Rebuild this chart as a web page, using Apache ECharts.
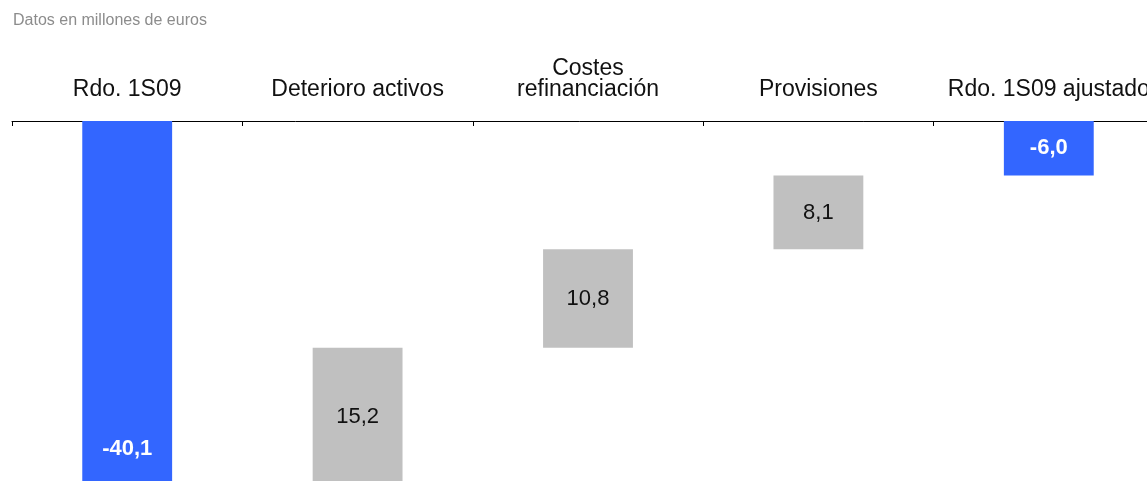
<!DOCTYPE html>
<html>
<head>
<meta charset="utf-8">
<script src="https://cdn.jsdelivr.net/npm/echarts@6/dist/echarts.min.js"></script>
<style>
  html, body { margin: 0; padding: 0; background: #fff; }
  #chart-panel { width: 1147px; height: 481px; }
</style>
</head>
<body>
<div id="chart-panel"></div>
<script>
// cascada: resultado 1S09 -> resultado ajustado
var categories = ['Rdo. 1S09', 'Deterioro activos', 'Costes\nrefinanciación', 'Provisiones', 'Rdo. 1S09 ajustado'];
var steps = [-40.1, 15.2, 10.8, 8.1, -6.0];
var isTotal = [true, false, false, false, true];

var blue = '#3366ff';
var grey = '#c0c0c0';

// base invisible + tramo visible, calculados a partir de steps
var baseData = [];
var barData = [];
var running = 0;
steps.forEach(function (v, i) {
    if (isTotal[i]) {
        baseData.push(0);
        barData.push(v);
        running = v;
    } else {
        var end = running + v;
        baseData.push(end);
        barData.push(-v);
        running = end;
    }
});

var fmt = function (v) {
    return v.toFixed(1).replace('.', ',');
};

var chartOption = {
    backgroundColor: '#fff',
    animation: false,
    title: {
        text: 'Datos en millones de euros',
        left: 8,
        top: 8,
        textStyle: {
            fontFamily: 'Liberation Sans, Arial',
            fontSize: 16,
            fontWeight: 'normal',
            color: '#8c8c8c'
        }
    },
    grid: {
        left: 12,
        top: 121,
        width: 1152,
        height: 365,
        containLabel: false,
        outerBoundsMode: 'none'
    },
    xAxis: {
        type: 'category',
        position: 'top',
        data: categories,
        axisLine: {
            lineStyle: { color: '#000', width: 1 }
        },
        axisTick: {
            show: true,
            inside: true,
            interval: 0,
            length: 5,
            lineStyle: { color: '#000' }
        },
        axisLabel: {
            interval: 0,
            hideOverlap: false,
            margin: 21,
            fontFamily: 'Liberation Sans, Arial',
            fontSize: 23,
            lineHeight: 21,
            color: '#111'
        }
    },
    yAxis: {
        type: 'value',
        min: -40.1,
        max: 0,
        show: false,
        splitLine: { show: false }
    },
    series: [{
        type: 'bar',
        stack: 'w',
        silent: true,
        itemStyle: { color: 'transparent' },
        data: baseData
    }, {
        type: 'bar',
        stack: 'w',
        barWidth: '39%',
        data: barData.map(function (v, i) {
            return {
                value: v,
                itemStyle: { color: isTotal[i] ? blue : grey },
                label: isTotal[i] ? {
                    color: '#fff',
                    fontWeight: 'bold',
                    position: i === 0 ? 'insideBottom' : 'inside',
                    distance: 26
                } : {}
            };
        }),
        label: {
            show: true,
            position: 'inside',
            fontFamily: 'Liberation Sans, Arial',
            fontSize: 22,
            color: '#111',
            formatter: function (p) {
                return fmt(steps[p.dataIndex]);
            }
        }
    }]
};

var myChart = echarts.init(document.getElementById('chart-panel'));
myChart.setOption(chartOption);
</script>
</body>
</html>
